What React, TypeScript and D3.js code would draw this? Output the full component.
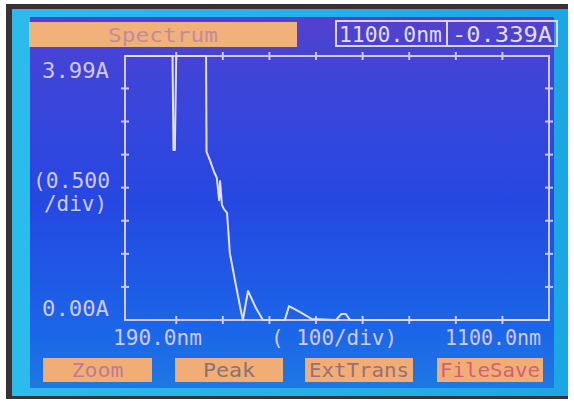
import React from "react";
import * as d3 from "d3";

// ---- data ----
const wavelengths = [190, 292, 294, 297, 300, 364, 365, 372, 381, 387, 392, 394, 398, 402, 409, 415, 426, 437, 443, 454, 471, 486, 533, 542, 566, 591, 643, 654, 664, 673, 1100];
const absorbance = [3.99, 3.99, 2.57, 2.57, 3.99, 3.99, 2.54, 2.42, 2.24, 2.15, 1.81, 2.1, 1.74, 1.68, 1.62, 1.01, 0.6, 0.2, 0.0, 0.44, 0.18, 0.0, 0.0, 0.21, 0.12, 0.015, 0.0, 0.09, 0.09, 0.0, 0.0];
const xDomain = [190, 1100];
const yDomain = [0, 3.99];
const xTickValues = [300, 400, 500, 600, 700, 800, 900, 1000];
const yTickValues = [0.5, 1.0, 1.5, 2.0, 2.5, 3.0, 3.5];
const buttonLabels = ["Zoom", "Peak", "ExtTrans", "FileSave"];
const title = "Spectrum";
const readoutWavelength = "1100.0nm";
const readoutAbs = "-0.339A";

const FONT = "'DejaVu Sans Mono', 'Liberation Mono', monospace";

export default function App() {
  const left = 125, right = 549, top = 56, bottom = 320;
  const x = d3.scaleLinear().domain(xDomain).range([left, right]);
  const y = d3.scaleLinear().domain(yDomain).range([bottom, top]).clamp(true);
  const pts = wavelengths.map((w, i) => [w, absorbance[i]] as [number, number]);
  const line = d3.line<[number, number]>().x((d) => x(d[0])).y((d) => y(d[1]));

  const lav = "#cfc9f2";
  const btnX = [43, 175, 305, 437];
  const btnW = [109, 108, 108, 106];
  const btnColors = ["#c07a92", "#8a7272", "#9a6e78", "#d0607a"];

  return (
    <svg width={574} height={401} style={{ position: "absolute", left: 0, top: 0 }}>
      <defs>
        <linearGradient id="scr" x1="0" y1="0" x2="0" y2="1">
          <stop offset="0" stopColor="#5242cc" />
          <stop offset="0.15" stopColor="#4044d8" />
          <stop offset="0.5" stopColor="#2548e2" />
          <stop offset="0.85" stopColor="#1b66e8" />
          <stop offset="1" stopColor="#1f78e2" />
        </linearGradient>
        <linearGradient id="bez" x1="0" y1="0" x2="1" y2="0">
          <stop offset="0" stopColor="#2cbcec" />
          <stop offset="1" stopColor="#1aa8e4" />
        </linearGradient>
      </defs>
      <rect x={0} y={0} width={574} height={401} fill="#ffffff" />
      <rect x={6} y={4} width={562} height={395} fill="#3a3036" />
      <rect x={12} y={9} width={556} height={387} fill="url(#bez)" />
      <rect x={30} y={17} width={524} height={371} fill="url(#scr)" />

      {/* title bar */}
      <rect x={29} y={22} width={268} height={25} fill="#f0b27a" />
      <text x={163} y={42} fontFamily={FONT} fontSize={20} fill="#c48a9c" textAnchor="middle" textLength={110} lengthAdjust="spacingAndGlyphs">{title}</text>
      <rect x={336} y={21} width={221} height={25} fill="none" stroke="#dcd4f4" strokeWidth={2} />
      <line x1={447} y1={21} x2={447} y2={46} stroke="#dcd4f4" strokeWidth={2} />
      <text x={339} y={42} fontFamily={FONT} fontSize={21} fill="#e4def8" textLength={103} lengthAdjust="spacingAndGlyphs">{readoutWavelength}</text>
      <text x={452} y={42} fontFamily={FONT} fontSize={21} fill="#e4def8" textLength={100} lengthAdjust="spacingAndGlyphs">{readoutAbs}</text>

      {/* frame */}
      <rect x={left} y={top} width={right - left} height={bottom - top} fill="none" stroke={lav} strokeWidth={2} />
      {yTickValues.map((v) => (
        <g key={"y" + v}>
          <line x1={left - 4} x2={left + 4} y1={y(v)} y2={y(v)} stroke={lav} strokeWidth={2} />
          <line x1={right - 4} x2={right + 4} y1={y(v)} y2={y(v)} stroke={lav} strokeWidth={2} />
        </g>
      ))}
      {xTickValues.map((v) => (
        <g key={"x" + v}>
          <line x1={x(v)} x2={x(v)} y1={bottom - 4} y2={bottom + 4} stroke={lav} strokeWidth={2} />
          <line x1={x(v)} x2={x(v)} y1={top - 4} y2={top + 4} stroke={lav} strokeWidth={2} />
        </g>
      ))}

      {/* spectrum trace */}
      <path d={line(pts) || ""} fill="none" stroke="#e2e0fc" strokeWidth={2} strokeLinejoin="round" />

      {/* axis labels */}
      <g fontFamily={FONT} fontSize={21} fill={lav}>
        <text x={42} y={78} textLength={67} lengthAdjust="spacingAndGlyphs">3.99A</text>
        <text x={33} y={188} textLength={77} lengthAdjust="spacingAndGlyphs">(0.500</text>
        <text x={44} y={211} textLength={63} lengthAdjust="spacingAndGlyphs">/div)</text>
        <text x={42} y={316} textLength={67} lengthAdjust="spacingAndGlyphs">0.00A</text>
        <text x={113} y={345} textLength={89} lengthAdjust="spacingAndGlyphs">190.0nm</text>
        <text x={271} y={345} textLength={126} lengthAdjust="spacingAndGlyphs">( 100/div)</text>
        <text x={445} y={345} textLength={96} lengthAdjust="spacingAndGlyphs">1100.0nm</text>
      </g>

      {/* buttons */}
      {buttonLabels.map((b, i) => (
        <g key={b}>
          <rect x={btnX[i]} y={358} width={btnW[i]} height={24} fill="#f0ae76" />
          <text x={btnX[i] + btnW[i] / 2} y={377} fontFamily={FONT} fontSize={19} fill={btnColors[i]} textAnchor="middle" textLength={b.length > 4 ? 100 : 52} lengthAdjust="spacingAndGlyphs">{b}</text>
        </g>
      ))}
    </svg>
  );
}
